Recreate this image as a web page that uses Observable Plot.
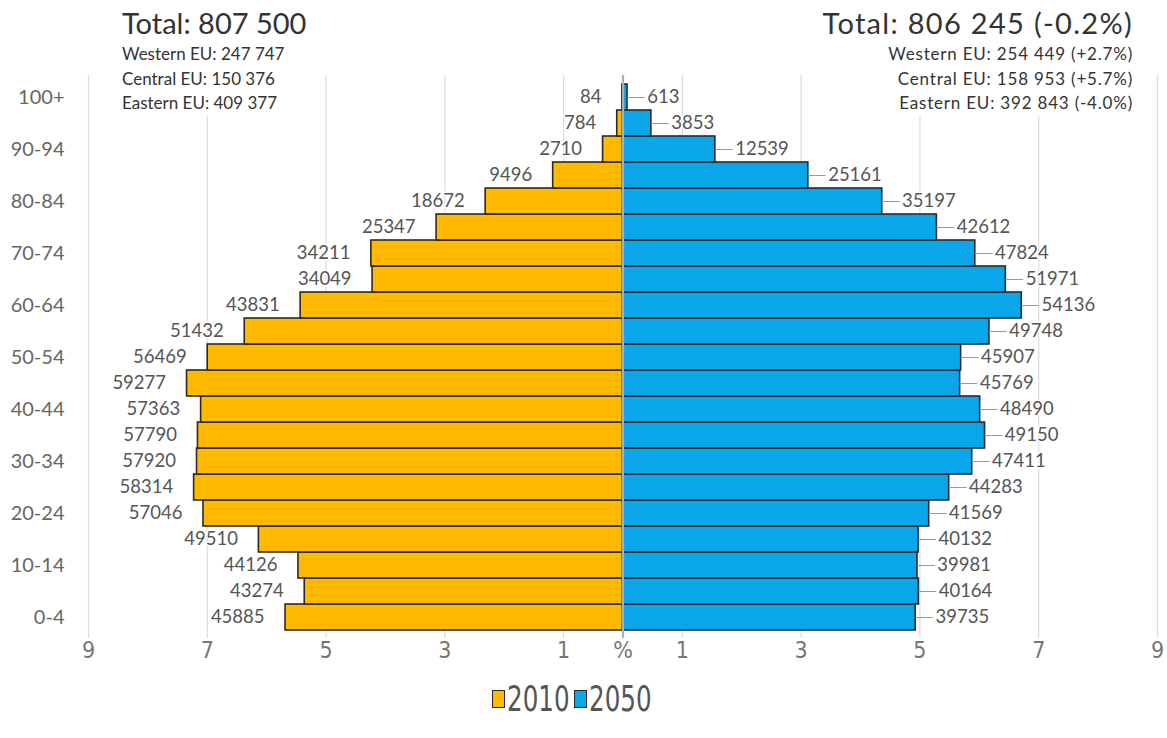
<!DOCTYPE html>
<html><head><meta charset="utf-8">
<script src="https://cdn.jsdelivr.net/npm/d3@7"></script>
<script src="https://cdn.jsdelivr.net/npm/@observablehq/plot@0.6"></script>
<style>
body{margin:0;background:#fff;font-family:Lato,"Open Sans",sans-serif;}
#wrap{position:relative;width:1167px;height:738px;overflow:hidden;}
.hdr{position:absolute;background:#fff;color:#333;}
.hdr .big{font-size:29px;line-height:38px;}
.hdr .small{font-size:17px;line-height:24.5px;color:#333;}
.hdr.r .big{letter-spacing:1.3px;}
.hdr.r .small{letter-spacing:0.8px;}
#legend{position:absolute;top:678px;left:0;width:1167px;padding-right:20px;box-sizing:border-box;display:flex;justify-content:center;align-items:center;
 font-family:"DejaVu Sans Condensed","Liberation Sans Narrow",sans-serif;font-size:36px;color:#555;}
#legend .sw{display:inline-block;width:11px;height:16px;border:1.5px solid #2a2a2a;margin-right:2px;}
#legend .item{display:flex;align-items:center;margin-right:3px;}
#legend .tw{display:inline-block;width:64px;overflow:visible;white-space:nowrap;}
#legend .tx{display:inline-block;transform:scaleX(0.76);transform-origin:left center;}
</style></head><body>
<div id="wrap"></div>
<script>
const ages = ["0-4","5-9","10-14","15-19","20-24","25-29","30-34","35-39","40-44","45-49","50-54","55-59","60-64","65-69","70-74","75-79","80-84","85-89","90-94","95-99","100+"];
const values2010 = [45885, 43274, 44126, 49510, 57046, 58314, 57920, 57790, 57363, 59277, 56469, 51432, 43831, 34049, 34211, 25347, 18672, 9496, 2710, 784, 84];
const values2050 = [39735, 40164, 39981, 40132, 41569, 44283, 47411, 49150, 48490, 45769, 45907, 49748, 54136, 51971, 47824, 42612, 35197, 25161, 12539, 3853, 613];
const years = ["2010", "2050"];
const totals = [807500, 806245];
const colors = ["#FFBA00", "#0AA6EA"];
const ageTickLabels = ["0-4","10-14","20-24","30-34","40-44","50-54","60-64","70-74","80-84","90-94","100+"];
const xTicks = [-9,-7,-5,-3,-1,0,1,3,5,7,9];
const gridTicks = [-9,-7,-5,-3,-1,1,3,5,7,9];
const headerLeft = ["Total: 807 500","Western EU: 247 747","Central EU: 150 376","Eastern EU: 409 377"];
const headerRight = ["Total: 806 245 (-0.2%)","Western EU: 254 449 (+2.7%)","Central EU: 158 953 (+5.7%)","Eastern EU: 392 843 (-4.0%)"];

const left = ages.map((age, i) => ({age, year: years[0], value: values2010[i], pct: -values2010[i] / totals[0] * 100}));
const right = ages.map((age, i) => ({age, year: years[1], value: values2050[i], pct: values2050[i] / totals[1] * 100}));
const rows = left.concat(right);
const lead = 0.3;

const chart = Plot.plot({
  width: 1167,
  height: 680,
  marginTop: 75,
  marginBottom: 42,
  marginLeft: 88,
  marginRight: 10,
  style: {fontFamily: "Lato, sans-serif", background: "transparent"},
  x: {domain: [-9, 9], axis: null, label: null},
  y: {type: "band", domain: ages.slice().reverse(), padding: 0, axis: null, label: null},
  color: {domain: years, range: colors},
  marks: [
    Plot.ruleX(gridTicks, {stroke: "#dcdcdc", strokeWidth: 1.2}),
    Plot.barX(rows, {y: "age", x1: 0, x2: "pct", fill: "year", stroke: "#2a2a2a", strokeWidth: 1.6}),
    Plot.ruleX([0], {stroke: "#a7b0b5", strokeWidth: 2.2}),
    Plot.text(left, {x: "pct", y: "age", text: d => String(d.value), textAnchor: "end", dx: -21, fontSize: 18.5, fill: "#555", stroke: "white", strokeWidth: 3}),
    Plot.ruleY(right, {y: "age", x1: "pct", x2: d => d.pct + lead, stroke: "#999", strokeWidth: 1}),
    Plot.text(right, {x: d => d.pct + lead, y: "age", text: d => String(d.value), textAnchor: "start", dx: 2, fontSize: 18.5, fill: "#555", stroke: "white", strokeWidth: 3}),
    Plot.axisY({ticks: ageTickLabels, label: null, tickSize: 0, tickPadding: 24, fontSize: 20, color: "#666"}),
    Plot.axisX({ticks: xTicks, label: null, tickFormat: d => d === 0 ? "%" : String(Math.abs(d)), tickSize: 0, tickPadding: 3, fontSize: 23, fontFamily: "Liberation Sans Narrow, DejaVu Sans Condensed, sans-serif", color: "#777"})
  ]
});
const wrap = document.getElementById("wrap");
wrap.appendChild(chart);

function header(lines, cls, style) {
  const d = document.createElement("div");
  d.className = "hdr " + cls;
  Object.assign(d.style, style);
  lines.forEach((t, i) => {
    const s = document.createElement("div");
    s.className = i === 0 ? "big" : "small";
    s.textContent = t;
    d.appendChild(s);
  });
  wrap.appendChild(d);
}
header(headerLeft, "l", {left: "122px", top: "4px", textAlign: "left"});
header(headerRight, "r", {right: "34px", top: "4px", textAlign: "right"});

const lg = document.createElement("div");
lg.id = "legend";
years.forEach((y, i) => {
  const it = document.createElement("span");
  it.className = "item";
  const sw = document.createElement("span");
  sw.className = "sw";
  sw.style.background = colors[i];
  const tw = document.createElement("span");
  tw.className = "tw";
  const tx = document.createElement("span");
  tx.className = "tx";
  tx.textContent = y;
  tw.appendChild(tx);
  it.appendChild(sw); it.appendChild(tw);
  lg.appendChild(it);
});
wrap.appendChild(lg);
</script>
</body></html>
